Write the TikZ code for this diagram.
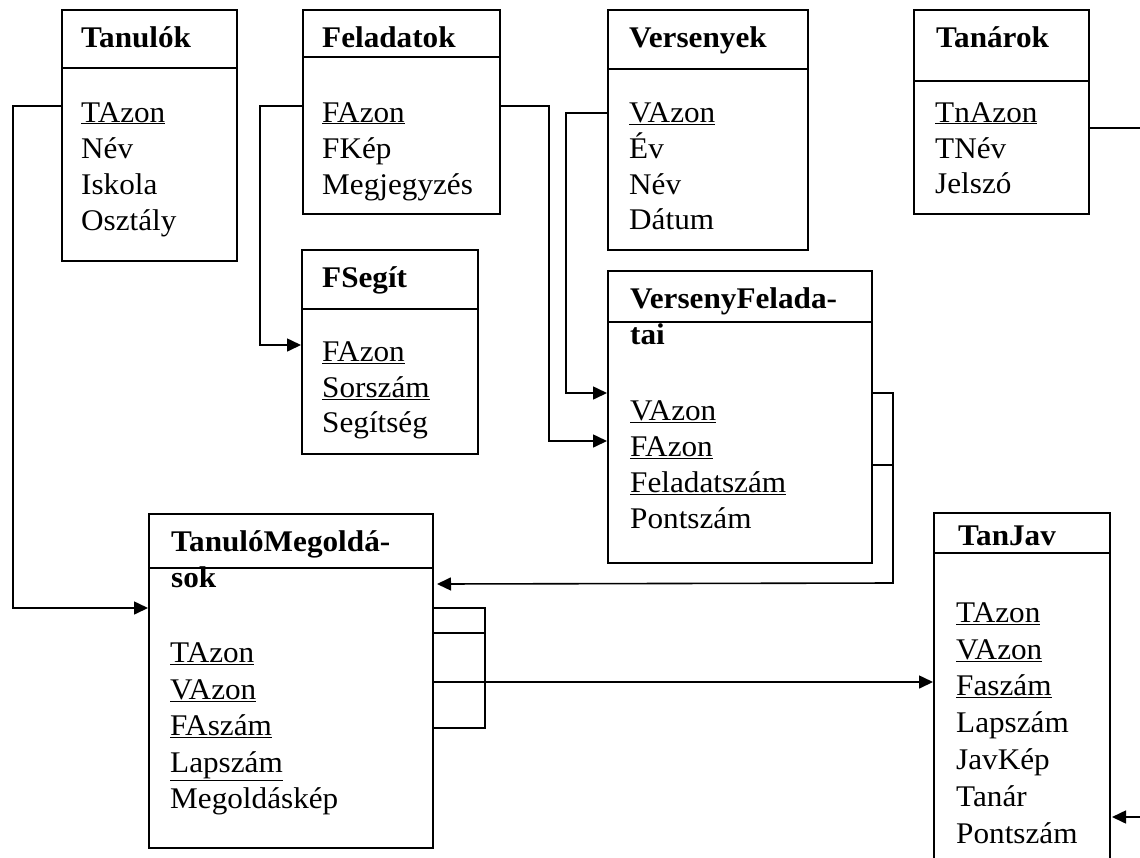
\documentclass[tikz,border=0pt]{standalone}
\usepackage{fontspec}
\setmainfont{Liberation Serif}[FakeStretch=1.04]
\usetikzlibrary{arrows.meta}
\newcommand{\pk}[1]{\underline{#1}}
\begin{document}
\begin{tikzpicture}[x=1pt,y=-1pt,
  tbl/.style={draw, line width=1.7pt, inner sep=0pt, anchor=north west},
  conn/.style={line width=1.6pt},
  arr/.style={conn, -{Triangle[length=14pt,width=13pt]}},
  lbl/.style={anchor=base west, inner sep=0pt, font=\fontsize{30}{36}\selectfont},
  ttl/.style={lbl, font=\fontsize{30}{36}\selectfont\bfseries}]
\useasboundingbox (0,0) rectangle (1140,857);
\fill[white] (0,0) rectangle (1140,857);
\clip (0,0) rectangle (1140,857);

% ---- Tanulók
\node[tbl, minimum width=175pt, minimum height=251pt] (tanulok) at (61,9) {};
\draw[conn] (tanulok.west |- 0,68) -- (tanulok.east |- 0,68);
\node[ttl] (tanulokT) at (81,47) {Tanulók};
\node[lbl] (tanulok1) at (81,122) {\pk{TAzon}};
\node[lbl] (tanulok2) at (81,158) {Név};
\node[lbl] (tanulok3) at (81,194) {Iskola};
\node[lbl] (tanulok4) at (81,230) {Osztály};

% ---- Feladatok
\node[tbl, minimum width=197pt, minimum height=204pt] (felad) at (302,9) {};
\draw[conn] (felad.west |- 0,57) -- (felad.east |- 0,57);
\node[ttl] (feladT) at (322,47) {Feladatok};
\node[lbl] (felad1) at (322,122) {\pk{FAzon}};
\node[lbl] (felad2) at (322,158) {FKép};
\node[lbl] (felad3) at (322,194) {Megjegyzés};

% ---- Versenyek
\node[tbl, minimum width=200pt, minimum height=240pt] (versenyek) at (607,9) {};
\draw[conn] (versenyek.west |- 0,69) -- (versenyek.east |- 0,69);
\node[ttl] (versenyekT) at (629,47) {Versenyek};
\node[lbl] (versenyek1) at (629,122) {\pk{VAzon}};
\node[lbl] (versenyek2) at (629,158) {Év};
\node[lbl] (versenyek3) at (629,194) {Név};
\node[lbl] (versenyek4) at (629,229) {Dátum};

% ---- Tanárok
\node[tbl, minimum width=175pt, minimum height=204pt] (tanarok) at (913,9) {};
\draw[conn] (tanarok.west |- 0,81) -- (tanarok.east |- 0,81);
\node[ttl] (tanarokT) at (936,47) {Tanárok};
\node[lbl] (tanarok1) at (935,122) {\pk{TnAzon}};
\node[lbl] (tanarok2) at (935,158) {TNév};
\node[lbl] (tanarok3) at (935,193) {Jelszó};

% ---- FSegít
\node[tbl, minimum width=176pt, minimum height=204pt] (fsegit) at (301,249) {};
\draw[conn] (fsegit.west |- 0,309) -- (fsegit.east |- 0,309);
\node[ttl] (fsegitT) at (322,287) {FSegít};
\node[lbl] (fsegit1) at (322,361) {\pk{FAzon}};
\node[lbl] (fsegit2) at (322,397) {\pk{Sorszám}};
\node[lbl] (fsegit3) at (322,432) {Segítség};

% ---- VersenyFeladatai
\node[tbl, minimum width=264pt, minimum height=292pt] (vf) at (607,270) {};
\draw[conn] (vf.west |- 0,322) -- (vf.east |- 0,322);
\node[ttl] (vfT1) at (630,308) {VersenyFelada-};
\node[ttl] (vfT2) at (630,344) {tai};
\node[lbl] (vf1) at (630,420) {\pk{VAzon}};
\node[lbl] (vf2) at (630,456) {\pk{FAzon}};
\node[lbl] (vf3) at (630,492) {\pk{Feladatszám}};
\node[lbl] (vf4) at (630,528) {Pontszám};

% ---- TanulóMegoldások
\node[tbl, minimum width=284pt, minimum height=334pt] (tm) at (148,513) {};
\draw[conn] (tm.west |- 0,568) -- (tm.east |- 0,568);
\node[ttl] (tmT1) at (171,551) {TanulóMegoldá-};
\node[ttl] (tmT2) at (171,587) {sok};
\node[lbl] (tm1) at (170,662) {\pk{TAzon}};
\node[lbl] (tm2) at (170,699) {\pk{VAzon}};
\node[lbl] (tm3) at (170,735) {\pk{FAszám}};
\node[lbl] (tm4) at (170,772) {\pk{Lapszám}};
\node[lbl] (tm5) at (170,808) {Megoldáskép};

% ---- TanJav
\node[tbl, minimum width=176pt, minimum height=370pt] (tj) at (933,512) {};
\draw[conn] (tj.west |- 0,553) -- (tj.east |- 0,553);
\node[ttl] (tjT) at (958,545) {TanJav};
\node[lbl] (tj1) at (956,622) {\pk{TAzon}};
\node[lbl] (tj2) at (956,659) {\pk{VAzon}};
\node[lbl] (tj3) at (956,695) {\pk{Faszám}};
\node[lbl] (tj4) at (956,732) {Lapszám};
\node[lbl] (tj5) at (956,769) {JavKép};
\node[lbl] (tj6) at (956,806) {Tanár};
\node[lbl] (tj7) at (956,843) {Pontszám};

% ---- free ends and bend points
\coordinate (edgeA) at (1140,128);
\coordinate (edgeB) at (1140,817);
\coordinate (tjIn) at (1112,817);
\coordinate (tmIn) at (437,584);

% ---- connectors
\draw[arr] (tanulok.west |- 0,106) -- (13,106) -- (13,608) -- (tm.west |- 0,608);
\draw[arr] (felad.west |- 0,106) -- (260,106) -- (260,345) -- (fsegit.west |- 0,345);
\draw[arr] (felad.east |- 0,106) -- (549,106) -- (549,441) -- (vf.west |- 0,441);
\draw[arr] (versenyek.west |- 0,113) -- (566,113) -- (566,393) -- (vf.west |- 0,393);
\draw[arr] (vf.east |- 0,393) -- (893,393) -- (893,583) -- (tmIn);
\draw[conn] (vf.east |- 0,465) -- (893,465);
\draw[conn] (tm.east |- 0,608) -- (485,608) -- (485,728) -- (tm.east |- 0,728);
\draw[conn] (tm.east |- 0,633) -- (485,633);
\draw[arr] (tm.east |- 0,682) -- (tj.west |- 0,682);
\draw[conn] (tanarok.east |- 0,128) -- (edgeA);
\draw[arr] (edgeB) -- (tjIn);
\end{tikzpicture}
\end{document}
